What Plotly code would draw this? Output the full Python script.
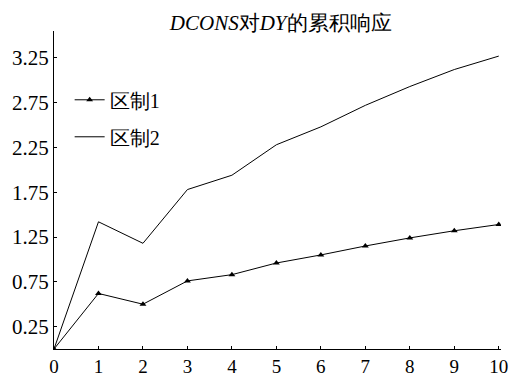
import plotly.graph_objects as go

# Forecast horizon (periods)
periods = [0, 1, 2, 3, 4, 5, 6, 7, 8, 9, 10]

# Cumulative response of DY to a DCONS shock, by regime
regime1 = [0.0, 0.62, 0.50, 0.76, 0.83, 0.96, 1.05, 1.15, 1.24, 1.32, 1.39]
regime2 = [0.0, 1.42, 1.18, 1.78, 1.94, 2.28, 2.48, 2.72, 2.93, 3.12, 3.27]

y_ticks = [0.25, 0.75, 1.25, 1.75, 2.25, 2.75, 3.25]
y_tick_labels = ["0.25", "0.75", "1.25", "1.75", "2.25", "2.75", "3.25"]

font_family = "Liberation Serif"

fig = go.Figure()
fig.add_trace(go.Scatter(
    x=periods, y=regime1, name="区制1", mode="lines+markers",
    legendgroup="r1",
    line=dict(color="black", width=1),
    marker=dict(symbol="triangle-up", size=6, color="black"),
))
fig.add_trace(go.Scatter(
    x=periods, y=regime2, name="区制2", mode="lines",
    legendgroup="r2",
    line=dict(color="black", width=1),
))

fig.update_layout(
    width=515, height=379,
    margin=dict(l=54, r=14, t=31, b=30),
    paper_bgcolor="white", plot_bgcolor="white",
    font=dict(family=font_family, size=20, color="black"),
    title=dict(
        text="<i>DCONS</i>对<i>DY</i>的累积响应",
        x=0.545, xanchor="center", y=0.94, yanchor="middle",
        font=dict(family=font_family, size=21, color="black"),
    ),
    showlegend=True,
    legend=dict(
        x=0.035, y=0.845, xanchor="left", yanchor="top",
        bgcolor="rgba(0,0,0,0)", borderwidth=0,
        font=dict(family=font_family, size=20, color="black"),
        itemwidth=30, tracegroupgap=8,
    ),
)

fig.update_xaxes(
    range=[0, 10.05], tickmode="array", tickvals=periods,
    ticktext=[str(p) for p in periods],
    showgrid=False, zeroline=False, automargin=False,
    showline=True, linecolor="black", linewidth=1,
    ticks="inside", ticklen=3, tickcolor="black",
    tickfont=dict(family=font_family, size=19, color="black"),
)
fig.update_yaxes(
    range=[0, 3.55], tickmode="array", tickvals=y_ticks, ticktext=y_tick_labels,
    showgrid=False, zeroline=False, automargin=False,
    showline=True, linecolor="black", linewidth=1,
    ticks="inside", ticklen=3, tickcolor="black",
    tickfont=dict(family=font_family, size=21, color="black"),
)

fig.write_html("out.html")
